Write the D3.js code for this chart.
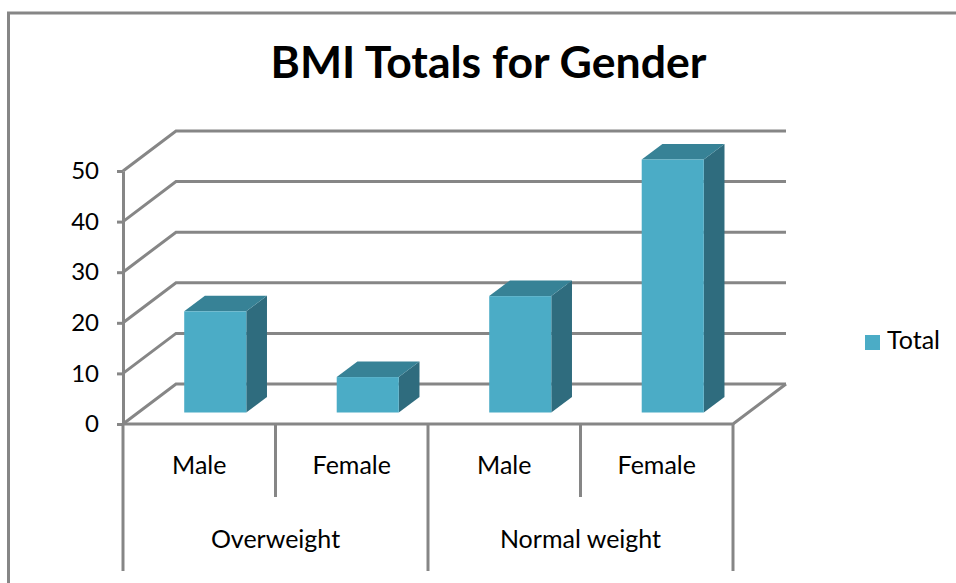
<!DOCTYPE html>
<html>
<head>
<meta charset="utf-8">
<script src="https://cdn.jsdelivr.net/npm/d3@7"></script>
<style>
html,body{margin:0;padding:0;background:#fff;overflow:hidden;}
text{font-family:Lato,"Open Sans",sans-serif;fill:#000;}
</style>
</head>
<body>
<div id="chart"></div>
<script>
var w = 956;
var h = 583;

var categories = ["Male","Female","Male","Female"];
var groups = ["Overweight","Normal weight"];
var values = [20,7,23,50];
var yTicks = [0,10,20,30,40,50];
var title = "BMI Totals for Gender";
var seriesName = "Total";

var lineColor = "#868686";
var frontColor = "#4bacc6";
var topColor = "#378296";
var sideColor = "#2f6c7e";

// the floor of the box, front edge to back edge
var depthX = 53;
var depthY = 40;
// bar depth and where it sits on the floor
var barDepthX = 20.7;
var barDepthY = 15.6;
var barShiftX = 16;
var barShiftY = 11.5;

var xScale = d3.scaleBand()
 .domain(d3.range(categories.length))
 .range([123, 733])
 .paddingInner(0.593)
 .paddingOuter(0.2965);

var bandStep = xScale.step();

var groupScale = d3.scaleBand()
 .domain(d3.range(groups.length))
 .range([123, 733]);

var yScale = d3.scaleLinear()
 .domain([0, 50])
 .range([424, 171]);

var svg = d3.select("#chart")
 .append("svg")
 .attr("width", w)
 .attr("height", h);

// outer frame, only top and left show in the crop
svg.append("path")
 .attr("d", "M8.5," + h + "V13H" + w)
 .attr("fill", "none")
 .attr("stroke", lineColor)
 .attr("stroke-width", 3);

svg.append("text")
 .attr("x", 488.5)
 .attr("y", 78)
 .attr("text-anchor", "middle")
 .style("font-size", "44.6px")
 .style("font-weight", "700")
 .text(title);

// gridlines on back wall and the slanted side wall
var grid = svg.append("g").attr("fill", "none").attr("stroke", lineColor).attr("stroke-width", 3);
yTicks.forEach(function(t){
  grid.append("path")
   .attr("d", "M" + 123 + "," + yScale(t) + "L" + (123 + depthX) + "," + (yScale(t) - depthY) + "H" + (733 + depthX));
});

// floor front edge and right slant
grid.append("path")
 .attr("d", "M123," + yScale(0) + "H733L" + (733 + depthX) + "," + (yScale(0) - depthY));

// y axis
var yAxis = svg.append("g")
 .attr("transform", "translate(123,0)")
 .call(d3.axisLeft(yScale).tickValues(yTicks).tickSize(6).tickPadding(18).tickSizeOuter(0));
yAxis.select(".domain").attr("stroke", lineColor).attr("stroke-width", 3);
yAxis.selectAll(".tick line").attr("stroke", lineColor).attr("stroke-width", 3);
yAxis.selectAll(".tick text")
 .style("font-family", "Lato")
 .style("font-size", "24px")
 .attr("fill", "#000");

// bars
var bars = svg.selectAll("g.bar")
 .data(values)
 .enter()
 .append("g")
 .attr("class", "bar");

function barBox(d, i){
  var x0 = xScale(i) + barShiftX;
  var x1 = x0 + xScale.bandwidth();
  var yb = yScale(0) - barShiftY;
  var yt = yb - (yScale(0) - yScale(d));
  return {x0:x0, x1:x1, yb:yb, yt:yt};
}

bars.append("path")
 .attr("fill", sideColor)
 .attr("d", function(d, i){
   var b = barBox(d, i);
   return "M" + b.x1 + "," + b.yt + "l" + barDepthX + "," + (-barDepthY) + "V" + (b.yb - barDepthY) + "L" + b.x1 + "," + b.yb + "Z";
 });

bars.append("path")
 .attr("fill", topColor)
 .attr("d", function(d, i){
   var b = barBox(d, i);
   return "M" + b.x0 + "," + b.yt + "l" + barDepthX + "," + (-barDepthY) + "H" + (b.x1 + barDepthX) + "L" + b.x1 + "," + b.yt + "Z";
 });

bars.append("rect")
 .attr("fill", frontColor)
 .attr("x", function(d, i){ return barBox(d, i).x0; })
 .attr("y", function(d, i){ return barBox(d, i).yt; })
 .attr("width", xScale.bandwidth())
 .attr("height", function(d, i){ var b = barBox(d, i); return b.yb - b.yt; });

// category dividers, long ones separate the groups
var axisLines = svg.append("g").attr("stroke", lineColor).attr("stroke-width", 3);
d3.range(categories.length + 1).forEach(function(i){
  var x = 123 + i*bandStep;
  axisLines.append("line")
   .attr("x1", x).attr("x2", x)
   .attr("y1", yScale(0))
   .attr("y2", i % 2 == 0 ? 571 : 497);
});

svg.selectAll("text.cat")
 .data(categories)
 .enter()
 .append("text")
 .attr("class", "cat")
 .attr("x", function(d, i){ return 123 + (i + 0.5)*bandStep; })
 .attr("y", 474)
 .attr("text-anchor", "middle")
 .style("font-size", "25px")
 .text(function(d){ return d; });

svg.selectAll("text.grp")
 .data(groups)
 .enter()
 .append("text")
 .attr("class", "grp")
 .attr("x", function(d, i){ return groupScale(i) + groupScale.bandwidth()/2; })
 .attr("y", 548)
 .attr("text-anchor", "middle")
 .style("font-size", "25px")
 .text(function(d){ return d; });

// legend
svg.append("rect")
 .attr("x", 865)
 .attr("y", 335)
 .attr("width", 15)
 .attr("height", 15)
 .attr("fill", frontColor);

svg.append("text")
 .attr("x", 887)
 .attr("y", 349)
 .style("font-size", "25px")
 .text(seriesName);
</script>
</body>
</html>
